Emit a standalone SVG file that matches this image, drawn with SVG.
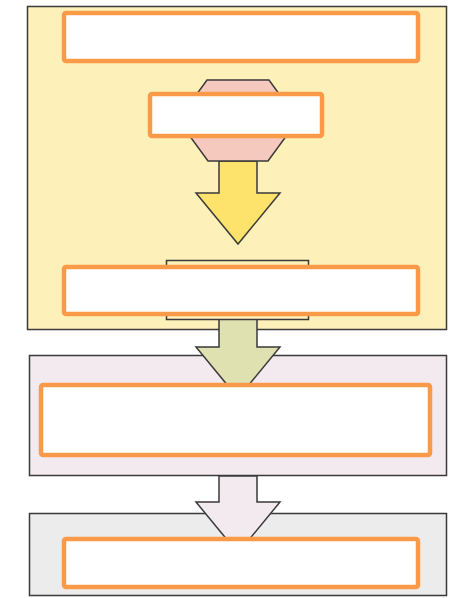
<svg xmlns="http://www.w3.org/2000/svg" width="451" height="598" viewBox="0 0 451 598">
<style>
.c{stroke:#3a3a3a;stroke-width:1.5}
.lbl{fill:#ffffff;stroke:#f99a48;stroke-width:4.5}
</style>
<rect width="451" height="598" fill="#ffffff"/>
<g id="containers">
<rect id="stage1" class="c" x="27.5" y="6.5" width="419" height="323" fill="#fef0b9"/>
<rect id="stage2" class="c" x="29.5" y="355.5" width="417" height="120" fill="#f3eaf0"/>
<rect id="stage3" class="c" x="29.5" y="513.5" width="417" height="82" fill="#ececec"/>
</g>
<g id="connectors">
<path class="c" fill="#fde26b" d="M219,161 L257,161 L257,193 L280,193 L238,244 L196,193 L219,193 Z"/>
<path class="c" fill="#dfe2b0" d="M219,318 L257,318 L257,347 L280,347 L238,398 L196,347 L219,347 Z"/>
<path class="c" fill="#f3eaf0" d="M219,476 L257,476 L257,502 L280,502 L238,553 L196,502 L219,502 Z"/>
</g>
<g id="hexagon">
<path class="c" fill="#f5c9bd" d="M207,80 L269,80 L298,120 L268,161 L208,161 L178,120 Z"/>
</g>
<g id="bar">
<rect class="c" x="166.5" y="260.5" width="142" height="59" fill="#fef0b9"/>
</g>
<g id="label1"><rect class="lbl" x="64" y="13" width="354" height="48" rx="2"/></g>
<g id="label2"><rect class="lbl" x="150" y="94" width="172" height="42" rx="2"/></g>
<g id="label3"><rect class="lbl" x="64" y="267" width="354" height="47" rx="2"/></g>
<g id="label4"><rect class="lbl" x="41" y="385" width="389" height="70" rx="2"/></g>
<g id="label5"><rect class="lbl" x="64" y="539" width="354" height="48" rx="2"/></g>
</svg>
